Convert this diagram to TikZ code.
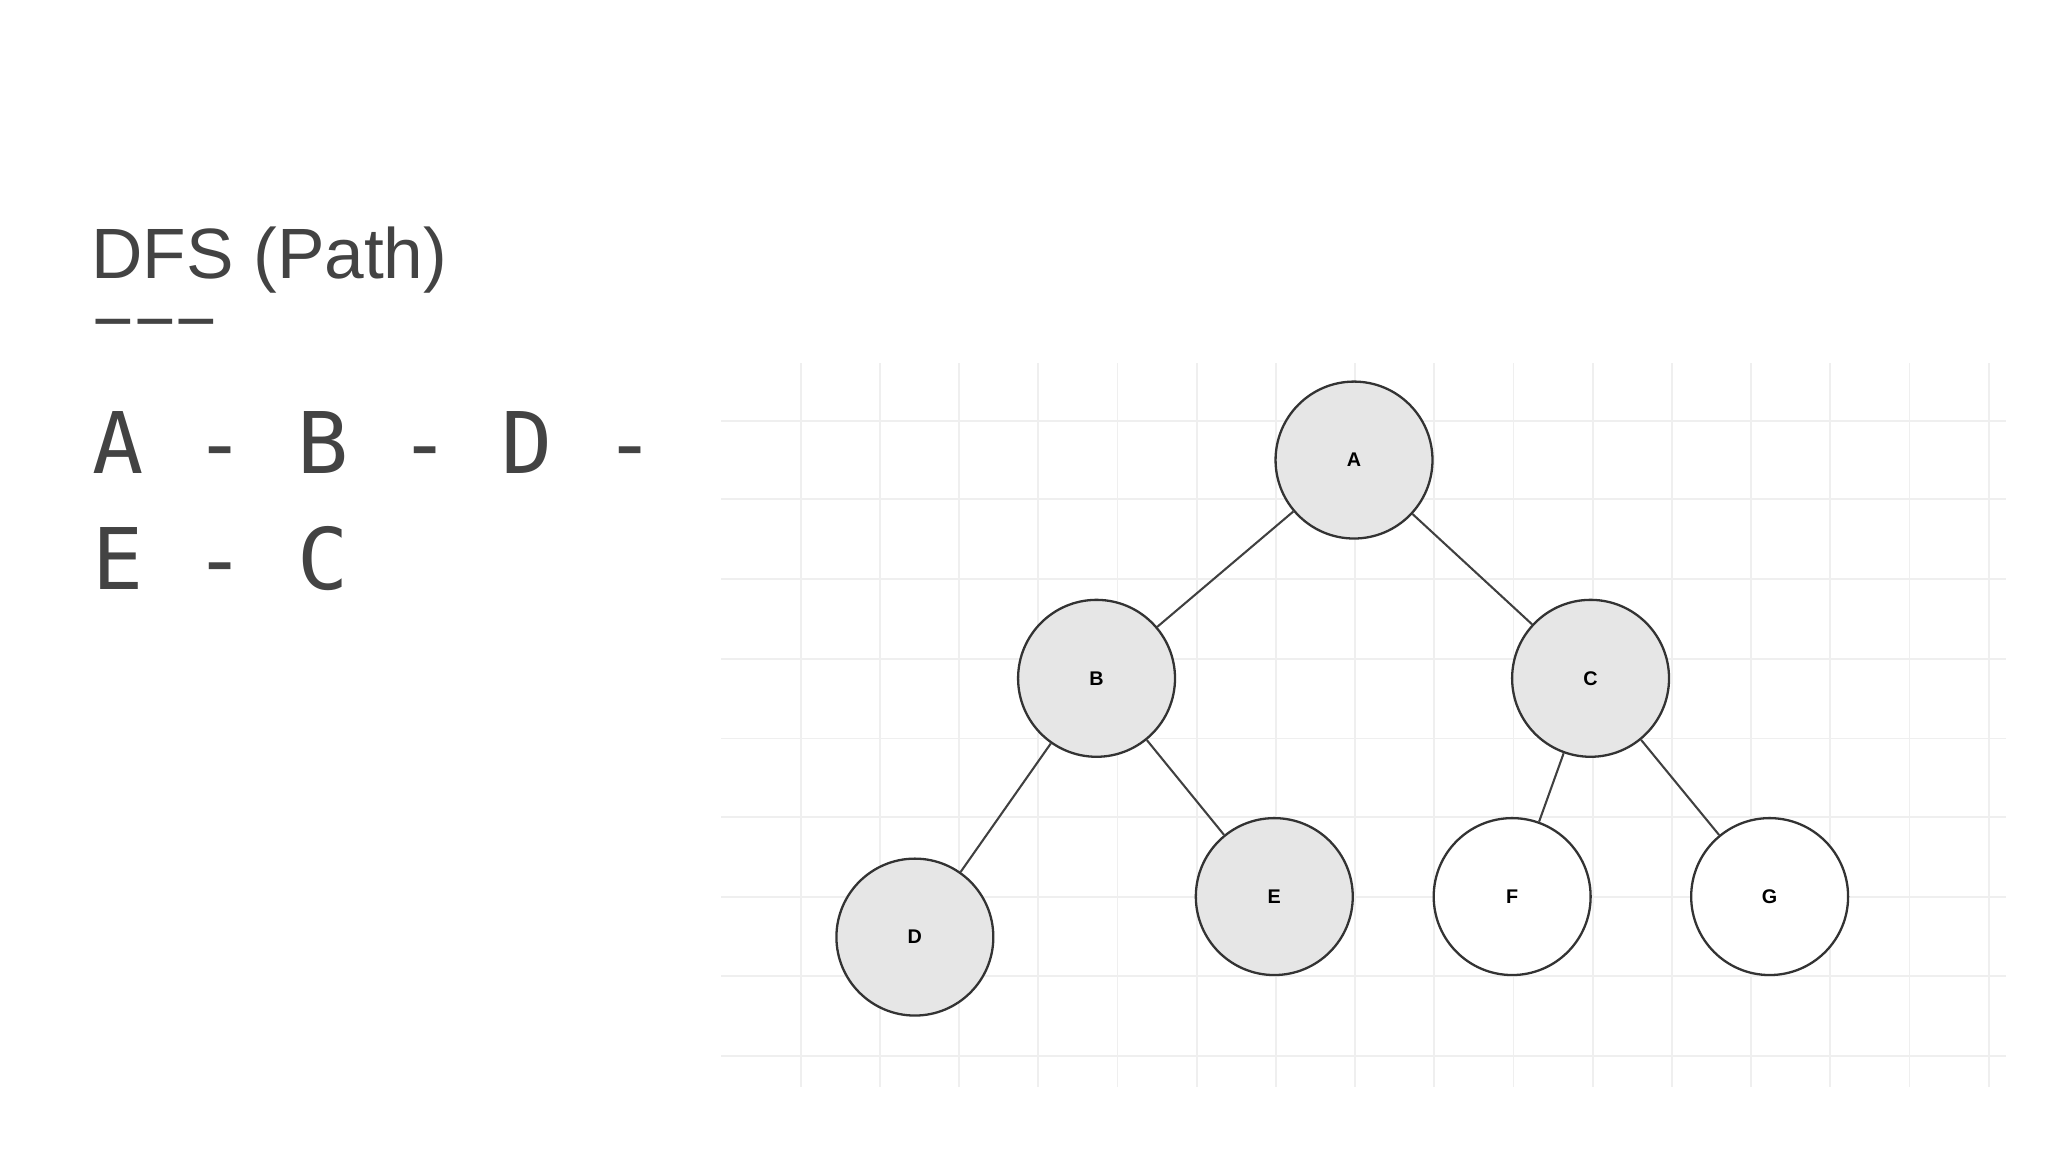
\documentclass[tikz,border=0pt]{standalone}
\usepackage{fontspec}
\setmainfont{Liberation Sans}
\newfontfamily\monof{DejaVu Sans Mono}
\definecolor{txt}{HTML}{434343}
\definecolor{nodefill}{HTML}{E6E6E6}
\definecolor{gridc}{HTML}{EFEFEF}
\begin{document}
\begin{tikzpicture}[x=0.01cm,y=-0.01cm,
  tnode/.style={circle,draw=black!80,line width=0.5pt,minimum size=1.2cm,inner sep=0pt,font=\fontsize{4.3}{5}\selectfont\bfseries},
  visited/.style={tnode,fill=nodefill},
  plain/.style={tnode,fill=white},
  edge/.style={draw=black!75,line width=0.45pt}]
\useasboundingbox (0,0) rectangle (1567,881.4);
% grid
\foreach \x in {612.6,673.2,733.8,794.4,855,915.6,976.2,1036.8,1097.4,1158,1218.6,1279.2,1339.8,1400.4,1461,1521.6}
  \draw[gridc,line width=0.4pt] (\x,278) -- (\x,832);
\foreach \y in {322,382,443,504,565,625,686,747,808}
  \draw[gridc,line width=0.4pt] (552,\y) -- (1535,\y);
% title
\node[anchor=base west,inner sep=0pt,text=txt,font=\fontsize{15.5}{18}\selectfont] (title) at (69,213) {DFS (Path)};
\node[anchor=base west,inner sep=0pt,text=txt,font=\fontsize{15.5}{18}\selectfont] (dash) at (70,264) {−−−};
\node[anchor=base west,inner sep=0pt,text=txt,font=\monof\fontsize{18.5}{20}\selectfont] (l1) at (70,362) {A - B - D -};
\node[anchor=base west,inner sep=0pt,text=txt,font=\monof\fontsize{18.5}{20}\selectfont] (l2) at (70,451) {E - C};
% tree
\node[visited] (A) at (1036,352) {A};
\node[visited] (B) at (839,519) {B};
\node[visited] (C) at (1217,519) {C};
\node[visited] (D) at (700,717) {D};
\node[visited] (E) at (975,686) {E};
\node[plain] (F) at (1157,686) {F};
\node[plain] (G) at (1354,686) {G};
\draw[edge] (A) -- (B);
\draw[edge] (A) -- (C);
\draw[edge] (B) -- (D);
\draw[edge] (B) -- (E);
\draw[edge] (C) -- (F);
\draw[edge] (C) -- (G);
\end{tikzpicture}
\end{document}
